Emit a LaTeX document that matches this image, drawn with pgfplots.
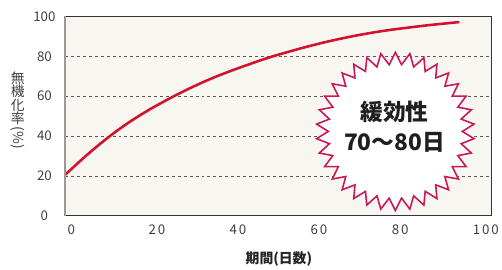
\documentclass[border=0pt]{standalone}
\usepackage{pgfplots}
\pgfplotsset{compat=1.18}
\usepackage{fontspec}
\setmainfont{Noto Sans CJK JP}
\usetikzlibrary{shapes.geometric}
\definecolor{bgc}{HTML}{F8F6F1}
\definecolor{curve}{HTML}{D2122E}
\definecolor{starc}{HTML}{C8185A}
\definecolor{tickc}{HTML}{404040}
\begin{document}
\begin{tikzpicture}
\begin{axis}[
  at={(0,0)}, anchor=south west,
  scale only axis, width=431pt, height=201.6pt,
  xmin=0, xmax=105.1, ymin=0, ymax=100,
  xtick={0,20,40,60,80,100}, ytick={0,20,40,60,80,100},
  major tick length=0pt,
  axis background/.style={fill=bgc},
  axis line style={draw=black!80, line width=0.6pt},
  ymajorgrids, grid style={dashed, draw=black!65, line width=0.6pt, dash pattern=on 3pt off 3pt},
  xticklabel style={anchor=north west, font=\fontsize{13.5}{13.5}\selectfont\addfontfeatures{LetterSpace=14}, text=tickc, yshift=-6pt, xshift=-1pt},
  yticklabel style={anchor=center, font=\fontsize{13.5}{13.5}\selectfont, text=tickc, xshift=-21pt},
  /pgf/number format/assume math mode=true,
  clip=false,
  extra description/.code={
    \draw[black!40, line width=2pt] (rel axis cs:0,0) -- (rel axis cs:0,1);
    \node[font=\fontsize{14}{14}\selectfont, text=tickc, inner sep=0pt, anchor=north]
      (ylab) at ([xshift=-48pt]rel axis cs:0,0.725) {無};
    \node[font=\fontsize{14}{14}\selectfont, text=tickc, inner sep=0pt, anchor=north]
      (yl2) at ([yshift=-0.5pt]ylab.south) {機};
    \node[font=\fontsize{14}{14}\selectfont, text=tickc, inner sep=0pt, anchor=north]
      (yl3) at ([yshift=-0.5pt]yl2.south) {化};
    \node[font=\fontsize{14}{14}\selectfont, text=tickc, inner sep=0pt, anchor=north]
      (yl4) at ([yshift=-0.5pt]yl3.south) {率};
    \node[font=\fontsize{14}{14}\selectfont, text=tickc, inner sep=0pt, rotate=-90, anchor=west]
      at ([yshift=-1.5pt]yl4.south) {(\%)};
    \node[font=\bfseries\fontsize{14}{14}\selectfont, text=black!85, anchor=north]
      at ([yshift=-33pt]rel axis cs:0.502,0) {期間(日数)};
  },
]
\addplot[curve, line width=2.6pt, smooth, tension=0.6] coordinates {
  (0,20.5) (5,29.8) (10,38.3) (15,45.8) (20,52.3) (25,58.0) (30,63.2) (35,67.9)
  (40,72.0) (45,75.7) (50,79.2) (55,82.2) (60,85.0) (65,87.5) (70,89.7) (75,91.6)
  (80,93.2) (85,94.5) (90,95.7) (97.3,97.2)
};
\node[star, star points=34, star point ratio=1.18, minimum size=160pt, inner sep=0pt,
  draw=starc, fill=white, line width=1.6pt] at (axis cs:81.5,42.3) {};
\node[font=\bfseries\fontsize{23}{31}\selectfont, align=center, text=black!88] at (axis cs:81.3,44.6)
  {緩効性\\70～80日};
\end{axis}
\useasboundingbox (-66pt,-50.7pt) rectangle (436pt,218.3pt);
\end{tikzpicture}
\end{document}
